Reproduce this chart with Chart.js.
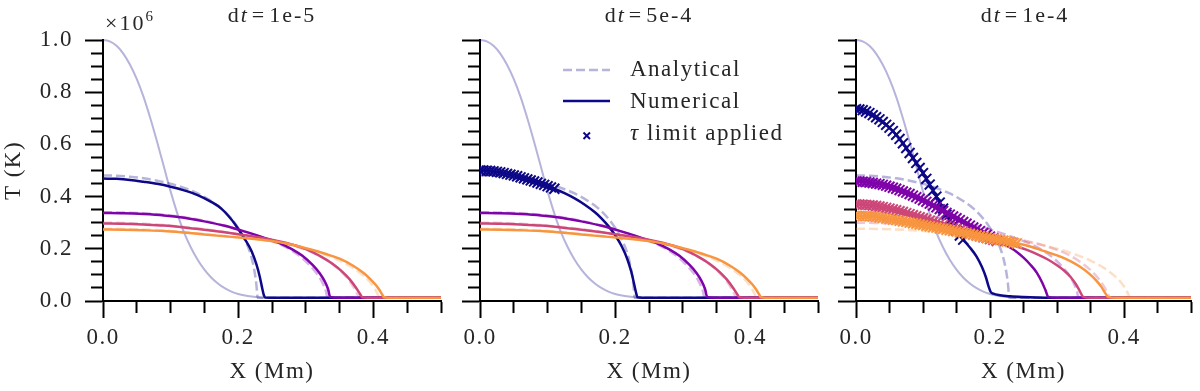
<!DOCTYPE html>
<html>
<head>
<meta charset="utf-8">
<script src="https://cdn.jsdelivr.net/npm/chart.js@4.4.0/dist/chart.umd.min.js"></script>
<style>
  body { margin: 0; background: #fff; }
  #wrap { position: relative; width: 1200px; height: 391px; overflow: hidden;
          font-family: "Liberation Serif", serif; color: #262626; }
  canvas { position: absolute; top: 0; }
  .txt { position: absolute; white-space: nowrap; font-size: 23px; line-height: 1; letter-spacing: 1.5px; }
  .ttl { transform: translateX(-50%); font-size: 22px; letter-spacing: 2px; }
  .eq { margin: 0 3px; }
  sup { font-size: 15px; vertical-align: 9px; line-height: 0; }
  #leg { position: absolute; left: 555px; top: 55px; }
</style>
</head>
<body>
<div id="wrap">
  <canvas id="c1" width="450" height="391" style="left:0px"></canvas>
  <canvas id="c2" width="380" height="391" style="left:450px"></canvas>
  <canvas id="c3" width="374" height="391" style="left:826px"></canvas>

  <div class="txt ttl" style="left:272px;top:4px">d<i>t</i><span class="eq">=</span>1e-5</div>
  <div class="txt ttl" style="left:649px;top:4px">d<i>t</i><span class="eq">=</span>5e-4</div>
  <div class="txt ttl" style="left:1025px;top:4px">d<i>t</i><span class="eq">=</span>1e-4</div>
  <div class="txt" style="left:105px;top:12px;font-size:22px;letter-spacing:2px">×10<sup>6</sup></div>

  <svg id="leg" width="70" height="95">
    <line x1="8" y1="15" x2="55" y2="15" stroke="rgba(13,8,135,0.3)" stroke-width="2.5" stroke-dasharray="9 4"/>
    <line x1="8" y1="46" x2="55" y2="46" stroke="#0d0887" stroke-width="2.5"/>
    <line x1="28.5" y1="77.5" x2="35" y2="84" stroke="#0d0887" stroke-width="2"/>
    <line x1="35" y1="77.5" x2="28.5" y2="84" stroke="#0d0887" stroke-width="2"/>
  </svg>
  <div class="txt" style="left:630px;top:57px">Analytical</div>
  <div class="txt" style="left:630px;top:89px">Numerical</div>
  <div class="txt" style="left:630px;top:121px"><i>τ</i> limit applied</div>
</div>

<script>
// temperatures in units of 1e6 K, positions in Mm
const timeColors  = ['#0d0887', '#7e03a8', '#cc4778', '#f89540'];
const fadedColors = ['rgba(13,8,135,0.3)', 'rgba(126,3,168,0.3)', 'rgba(204,71,120,0.3)', 'rgba(248,149,64,0.3)'];

// initial profile
const xInit = [0, 0.01, 0.02, 0.03, 0.04, 0.05, 0.06, 0.07, 0.08, 0.09, 0.10, 0.11, 0.12, 0.13, 0.14, 0.15, 0.16, 0.17, 0.18, 0.19, 0.20, 0.21, 0.22, 0.23, 0.25, 0.5];
const tInit = [1.0, 0.995, 0.978, 0.948, 0.905, 0.85, 0.782, 0.70, 0.61, 0.515, 0.42, 0.335, 0.262, 0.205, 0.158, 0.120, 0.090, 0.067, 0.049, 0.036, 0.027, 0.021, 0.017, 0.014, 0.012, 0.012];

// analytical solutions (same in every panel)
const xAna0 = [0, 0.02, 0.04, 0.06, 0.08, 0.10, 0.12, 0.14, 0.16, 0.175, 0.19, 0.20, 0.21, 0.217, 0.222, 0.225, 0.227, 0.228, 0.229, 0.5];
const tAna0 = [0.481, 0.480, 0.476, 0.470, 0.461, 0.449, 0.433, 0.412, 0.383, 0.355, 0.315, 0.280, 0.234, 0.190, 0.142, 0.100, 0.060, 0.030, 0.012, 0.012];
const xAna1 = [0, 0.03, 0.06, 0.09, 0.12, 0.15, 0.18, 0.21, 0.24, 0.26, 0.28, 0.295, 0.31, 0.32, 0.326, 0.33, 0.332, 0.5];
const tAna1 = [0.340, 0.339, 0.336, 0.330, 0.321, 0.307, 0.289, 0.266, 0.239, 0.219, 0.192, 0.164, 0.125, 0.092, 0.062, 0.035, 0.012, 0.012];
const xAna2 = [0, 0.03, 0.06, 0.09, 0.12, 0.15, 0.18, 0.21, 0.24, 0.27, 0.30, 0.32, 0.34, 0.355, 0.366, 0.373, 0.377, 0.379, 0.5];
const tAna2 = [0.300, 0.299, 0.296, 0.291, 0.284, 0.275, 0.264, 0.252, 0.238, 0.220, 0.196, 0.173, 0.140, 0.106, 0.072, 0.043, 0.022, 0.012, 0.012];
const xAna3 = [0, 0.03, 0.06, 0.09, 0.12, 0.15, 0.18, 0.21, 0.24, 0.27, 0.30, 0.33, 0.35, 0.37, 0.385, 0.395, 0.402, 0.406, 0.409, 0.5];
const tAna3 = [0.277, 0.276, 0.274, 0.270, 0.264, 0.257, 0.249, 0.241, 0.232, 0.219, 0.200, 0.176, 0.155, 0.127, 0.098, 0.073, 0.048, 0.028, 0.012, 0.012];

// numerical, dt=1e-5 (purple/pink/orange also used for dt=5e-4)
const xNumA0 = [0, 0.02, 0.04, 0.06, 0.08, 0.10, 0.12, 0.14, 0.16, 0.175, 0.19, 0.20, 0.21, 0.22, 0.227, 0.232, 0.235, 0.238, 0.240, 0.26, 0.5];
const tNumA0 = [0.469, 0.468, 0.464, 0.457, 0.449, 0.438, 0.424, 0.406, 0.380, 0.354, 0.312, 0.276, 0.236, 0.190, 0.140, 0.092, 0.055, 0.022, 0.013, 0.012, 0.012];
const xNumA1 = [0, 0.03, 0.06, 0.09, 0.12, 0.15, 0.18, 0.21, 0.24, 0.26, 0.28, 0.295, 0.31, 0.32, 0.328, 0.333, 0.336, 0.35, 0.5];
const tNumA1 = [0.337, 0.336, 0.333, 0.328, 0.319, 0.305, 0.288, 0.266, 0.241, 0.223, 0.198, 0.173, 0.138, 0.108, 0.075, 0.045, 0.016, 0.012, 0.012];
const xNumA2 = [0, 0.03, 0.06, 0.09, 0.12, 0.15, 0.18, 0.21, 0.24, 0.27, 0.30, 0.32, 0.34, 0.355, 0.365, 0.374, 0.38, 0.384, 0.40, 0.5];
const tNumA2 = [0.297, 0.296, 0.293, 0.289, 0.282, 0.273, 0.263, 0.252, 0.240, 0.223, 0.199, 0.174, 0.142, 0.110, 0.083, 0.052, 0.028, 0.014, 0.012, 0.012];
const xNumA3 = [0, 0.03, 0.06, 0.09, 0.12, 0.15, 0.18, 0.21, 0.24, 0.27, 0.30, 0.33, 0.35, 0.37, 0.385, 0.395, 0.403, 0.409, 0.413, 0.416, 0.43, 0.5];
const tNumA3 = [0.274, 0.273, 0.271, 0.268, 0.262, 0.255, 0.248, 0.241, 0.233, 0.221, 0.202, 0.180, 0.162, 0.135, 0.108, 0.085, 0.063, 0.042, 0.025, 0.014, 0.012, 0.012];

// numerical, dt=5e-4, first time
const xNumB0 = [0, 0.005, 0.01, 0.015, 0.02, 0.025, 0.03, 0.035, 0.04, 0.045, 0.05, 0.055, 0.06, 0.065, 0.07, 0.075, 0.08, 0.085, 0.09, 0.095, 0.10, 0.105, 0.11,
                0.125, 0.14, 0.155, 0.17, 0.18, 0.19, 0.20, 0.21, 0.218, 0.224, 0.228, 0.231, 0.233, 0.25, 0.5];
const tNumB0 = [0.500, 0.500, 0.499, 0.498, 0.497, 0.495, 0.493, 0.490, 0.487, 0.484, 0.481, 0.478, 0.474, 0.470, 0.466, 0.462, 0.458, 0.454, 0.449, 0.445, 0.440, 0.435, 0.430,
                0.413, 0.393, 0.369, 0.340, 0.316, 0.287, 0.252, 0.208, 0.160, 0.110, 0.065, 0.030, 0.014, 0.012, 0.012];

// numerical, dt=1e-4
const xNumC0 = [0, 0.005, 0.01, 0.015, 0.02, 0.025, 0.03, 0.035, 0.04, 0.045, 0.05, 0.055, 0.06, 0.065, 0.07, 0.075, 0.08, 0.085, 0.09, 0.095, 0.10,
                0.105, 0.11, 0.115, 0.12, 0.125, 0.13, 0.135, 0.14, 0.145, 0.15, 0.155, 0.16,
                0.17, 0.18, 0.188, 0.194, 0.198, 0.201, 0.205, 0.215, 0.23, 0.25, 0.27, 0.29, 0.5];
const tNumC0 = [0.735, 0.734, 0.731, 0.726, 0.720, 0.712, 0.704, 0.696, 0.686, 0.675, 0.664, 0.651, 0.637, 0.621, 0.604, 0.586, 0.567, 0.548, 0.529, 0.510, 0.490,
                0.468, 0.446, 0.423, 0.400, 0.377, 0.354, 0.331, 0.309, 0.289, 0.269, 0.251, 0.235,
                0.205, 0.170, 0.130, 0.090, 0.055, 0.035, 0.028, 0.022, 0.018, 0.015, 0.013, 0.012, 0.012];
const xNumC1 = [0, 0.005, 0.01, 0.015, 0.02, 0.025, 0.03, 0.035, 0.04, 0.045, 0.05, 0.055, 0.06, 0.065, 0.07, 0.075, 0.08, 0.085, 0.09, 0.095, 0.10,
                0.105, 0.11, 0.115, 0.12, 0.125, 0.13, 0.135, 0.14, 0.145, 0.15, 0.155, 0.16, 0.165, 0.17, 0.175, 0.18, 0.185, 0.19, 0.195, 0.20, 0.205, 0.21,
                0.22, 0.23, 0.24, 0.25, 0.26, 0.27, 0.278, 0.283, 0.287, 0.30, 0.5];
const tNumC1 = [0.458, 0.458, 0.457, 0.456, 0.454, 0.452, 0.450, 0.448, 0.445, 0.442, 0.438, 0.434, 0.430, 0.425, 0.420, 0.415, 0.410, 0.404, 0.398, 0.392, 0.386,
                0.380, 0.373, 0.366, 0.359, 0.352, 0.345, 0.338, 0.331, 0.324, 0.317, 0.310, 0.303, 0.296, 0.289, 0.282, 0.275, 0.268, 0.261, 0.254, 0.247, 0.240, 0.233,
                0.218, 0.205, 0.188, 0.166, 0.140, 0.108, 0.070, 0.040, 0.016, 0.012, 0.012];
const xNumC2 = [0, 0.005, 0.01, 0.015, 0.02, 0.025, 0.03, 0.035, 0.04, 0.045, 0.05, 0.055, 0.06, 0.065, 0.07, 0.075, 0.08, 0.085, 0.09, 0.095, 0.10,
                0.105, 0.11, 0.115, 0.12, 0.125, 0.13, 0.135, 0.14, 0.145, 0.15, 0.155, 0.16, 0.165, 0.17, 0.175, 0.18, 0.185, 0.19, 0.195, 0.20, 0.205, 0.21,
                0.225, 0.24, 0.255, 0.27, 0.285, 0.30, 0.31, 0.32, 0.328, 0.334, 0.339, 0.35, 0.5];
const tNumC2 = [0.370, 0.370, 0.369, 0.368, 0.367, 0.366, 0.364, 0.362, 0.360, 0.357, 0.354, 0.351, 0.348, 0.344, 0.341, 0.337, 0.333, 0.329, 0.325, 0.321, 0.317,
                0.313, 0.308, 0.304, 0.300, 0.296, 0.291, 0.287, 0.283, 0.279, 0.275, 0.271, 0.267, 0.263, 0.259, 0.255, 0.251, 0.248, 0.244, 0.241, 0.237, 0.234, 0.230,
                0.220, 0.209, 0.196, 0.180, 0.161, 0.137, 0.118, 0.093, 0.065, 0.038, 0.016, 0.012, 0.012];
const xNumC3 = [0, 0.005, 0.01, 0.015, 0.02, 0.025, 0.03, 0.035, 0.04, 0.045, 0.05, 0.055, 0.06, 0.065, 0.07, 0.075, 0.08, 0.085, 0.09, 0.095, 0.10,
                0.105, 0.11, 0.115, 0.12, 0.125, 0.13, 0.135, 0.14, 0.145, 0.15, 0.155, 0.16, 0.165, 0.17, 0.175, 0.18, 0.185, 0.19, 0.195, 0.20,
                0.205, 0.21, 0.215, 0.22, 0.225, 0.23, 0.235, 0.24,
                0.26, 0.28, 0.30, 0.32, 0.335, 0.348, 0.358, 0.366, 0.372, 0.376, 0.39, 0.5];
const tNumC3 = [0.326, 0.326, 0.325, 0.325, 0.324, 0.323, 0.322, 0.320, 0.318, 0.316, 0.314, 0.312, 0.310, 0.307, 0.305, 0.303, 0.300, 0.298, 0.296, 0.293, 0.291,
                0.288, 0.286, 0.283, 0.281, 0.278, 0.276, 0.273, 0.271, 0.268, 0.266, 0.263, 0.261, 0.258, 0.256, 0.253, 0.251, 0.248, 0.246, 0.243, 0.241,
                0.238, 0.236, 0.233, 0.231, 0.228, 0.226, 0.223, 0.221,
                0.209, 0.192, 0.175, 0.153, 0.130, 0.105, 0.080, 0.055, 0.030, 0.016, 0.012, 0.012];

// x position up to which the tau limiter was applied (null = never)
const limitB = [0.11, null, null, null];
const limitC = [0.16, 0.21, 0.21, 0.24];

const FONT = 'Liberation Serif';
const INK = '#262626';
Chart.defaults.font.family = FONT;
Chart.defaults.color = INK;

// widen canvas text a little (the original uses a wider TeX font)
const spacing = {
  id: 'spacing',
  beforeUpdate: c => { c.ctx.letterSpacing = '1.5px'; },
  beforeDraw: c => { c.ctx.letterSpacing = '1.5px'; }
};

function pts(xs, ts) { return xs.map((x, i) => ({ x: x, y: ts[i] })); }

function line(xs, ts, color, dash, width, limit) {
  return {
    data: pts(xs, ts),
    borderColor: color,
    backgroundColor: color,
    borderWidth: width,
    borderDash: dash,
    fill: false,
    cubicInterpolationMode: 'monotone',
    clip: { left: 0, right: 0, top: 6, bottom: 6 },
    pointStyle: 'crossRot',
    pointBorderColor: color,
    pointBorderWidth: 2,
    pointRadius: c => (limit != null && c.raw && c.raw.x <= limit + 1e-9) ? 7 : 0,
    pointHoverRadius: 0
  };
}

function isMajor(v) { return Math.abs(v * 5 - Math.round(v * 5)) < 1e-6; }

function panel(id, numX, numT, limits, yLabels, yWidth, padRight) {
  const sets = [line(xInit, tInit, fadedColors[0], [], 2, null)];
  const ax = [xAna0, xAna1, xAna2, xAna3], at = [tAna0, tAna1, tAna2, tAna3];
  for (let i = 0; i < 4; i++) sets.push(line(ax[i], at[i], fadedColors[i], [9, 4], 2.5, null));
  for (let i = 0; i < 4; i++) sets.push(line(numX[i], numT[i], timeColors[i], [], 2.5, limits[i]));
  // later entries on top
  sets.forEach((s, i) => { s.order = sets.length - i; });

  new Chart(document.getElementById(id), {
    type: 'line',
    data: { datasets: sets },
    plugins: [spacing],
    options: {
      responsive: false,
      animation: false,
      events: [],
      layout: { padding: { left: 0, right: padRight, top: 40, bottom: 0 } },
      plugins: { legend: { display: false }, tooltip: { enabled: false } },
      scales: {
        x: {
          type: 'linear', min: 0, max: 0.5,
          ticks: { stepSize: 0.05, autoSkip: false, maxRotation: 0, padding: 6,
                   font: { size: 23 }, color: INK,
                   callback: v => isMajor(v) ? v.toFixed(1) : '' },
          grid: { drawOnChartArea: false, tickLength: 17, tickWidth: 2, tickColor: '#000',
                  tickBorderDash: c => (c.tick && !isMajor(c.tick.value)) ? [11, 100] : [] },
          border: { display: true, color: '#000', width: 2 },
          title: { display: true, text: 'X (Mm)', font: { size: 23 }, color: INK, padding: { top: 0, bottom: 5 } },
          afterFit: s => { s.height = 90; }
        },
        y: {
          type: 'linear', min: 0, max: 1,
          ticks: { stepSize: 0.05, autoSkip: false, padding: 12,
                   font: { size: 23 }, color: INK,
                   callback: v => (yLabels && isMajor(v)) ? v.toFixed(1) : '' },
          grid: { drawOnChartArea: false, tickLength: 18, tickWidth: 2, tickColor: '#000',
                  tickBorderDash: c => (c.tick && !isMajor(c.tick.value)) ? [0, 6, 11, 100] : [] },
          border: { display: true, color: '#000', width: 2 },
          title: { display: yLabels, text: 'T (K)', font: { size: 23 }, color: INK, padding: { top: 0, bottom: 0 } },
          afterFit: s => { s.width = yWidth; }
        }
      }
    }
  });
}

panel('c1', [xNumA0, xNumA1, xNumA2, xNumA3], [tNumA0, tNumA1, tNumA2, tNumA3], [null, null, null, null], true, 103, 9);
panel('c2', [xNumB0, xNumA1, xNumA2, xNumA3], [tNumB0, tNumA1, tNumA2, tNumA3], limitB, false, 30, 12);
panel('c3', [xNumC0, xNumC1, xNumC2, xNumC3], [tNumC0, tNumC1, tNumC2, tNumC3], limitC, false, 30, 5);
</script>
</body>
</html>
